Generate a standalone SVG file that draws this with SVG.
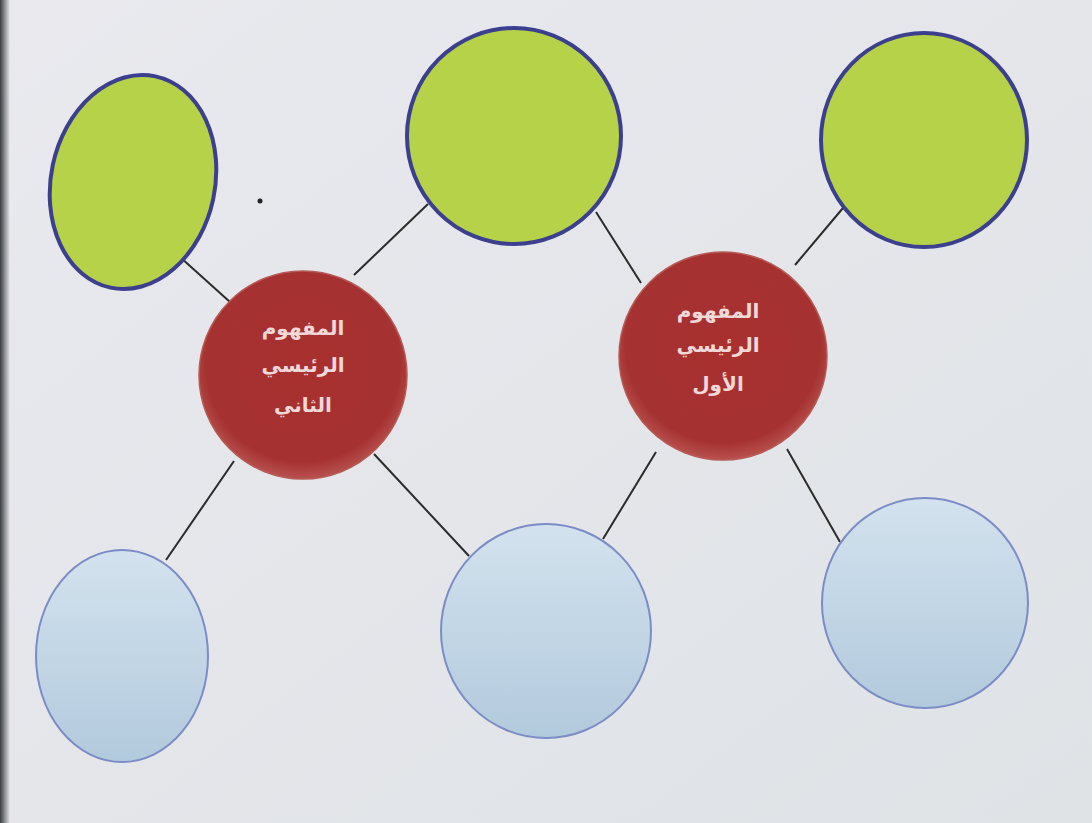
<svg xmlns="http://www.w3.org/2000/svg" width="1092" height="823" viewBox="0 0 1092 823">
<defs>
<linearGradient id="bg" x1="0" y1="0" x2="1" y2="1">
<stop offset="0" stop-color="#e9e9ee"/>
<stop offset="1" stop-color="#dfe3e6"/>
</linearGradient>
<linearGradient id="edge" x1="0" y1="0" x2="1" y2="0">
<stop offset="0" stop-color="#3a3d40"/>
<stop offset="1" stop-color="#3a3d40" stop-opacity="0"/>
</linearGradient>
<radialGradient id="red" cx="0.5" cy="0.45" r="0.55">
<stop offset="0" stop-color="#a8302f"/>
<stop offset="0.85" stop-color="#a53231"/>
<stop offset="1" stop-color="#b8514e"/>
</radialGradient>
<linearGradient id="blue" x1="0" y1="0" x2="0" y2="1">
<stop offset="0" stop-color="#d3e2ee"/>
<stop offset="1" stop-color="#b2cadd"/>
</linearGradient>
<style>
.green{fill:#b5d249;stroke:#3c3f8e;stroke-width:4}
.blue{fill:url(#blue);stroke:#7b8cc6;stroke-width:2}
.red{fill:url(#red);stroke:#b65a55;stroke-width:1.5}
.conn line{stroke:#2b2b2b;stroke-width:2}
.lbl{font-family:"DejaVu Sans","Noto Sans",sans-serif;font-size:20px;font-weight:bold;fill:#f2d9d9;text-anchor:middle}
</style>
</defs>
<rect width="1092" height="823" fill="url(#bg)"/>
<rect x="0" y="0" width="10" height="823" fill="url(#edge)"/>
<circle cx="260" cy="201" r="2.5" fill="#222"/>
<g id="connectors" class="conn">
<line x1="180" y1="257" x2="230" y2="302"/>
<line x1="354" y1="275" x2="428" y2="204"/>
<line x1="596" y1="212" x2="641" y2="283"/>
<line x1="795" y1="265" x2="843" y2="208"/>
<line x1="234" y1="461" x2="166" y2="560"/>
<line x1="374" y1="454" x2="469" y2="556"/>
<line x1="656" y1="452" x2="603" y2="539"/>
<line x1="787" y1="449" x2="840" y2="542"/>
</g>
<g id="green-top-left"><ellipse class="green" cx="133" cy="182" rx="82" ry="108" transform="rotate(12 133 182)"/></g>
<g id="green-top-center"><ellipse class="green" cx="514" cy="136" rx="107" ry="108"/></g>
<g id="green-top-right"><ellipse class="green" cx="924" cy="140" rx="103" ry="107"/></g>
<g id="blue-bottom-left"><ellipse class="blue" cx="122" cy="656" rx="86" ry="106"/></g>
<g id="blue-bottom-center"><ellipse class="blue" cx="546" cy="631" rx="105" ry="107"/></g>
<g id="blue-bottom-right"><ellipse class="blue" cx="925" cy="603" rx="103" ry="105"/></g>
<g id="main-concept-2">
<circle class="red" cx="303" cy="375" r="104"/>
<text class="lbl" x="303" y="335" direction="rtl">المفهوم</text>
<text class="lbl" x="303" y="372" direction="rtl">الرئيسي</text>
<text class="lbl" x="303" y="412" direction="rtl">الثاني</text>
</g>
<g id="main-concept-1">
<circle class="red" cx="723" cy="356" r="104"/>
<text class="lbl" x="718" y="318" direction="rtl">المفهوم</text>
<text class="lbl" x="718" y="352" direction="rtl">الرئيسي</text>
<text class="lbl" x="718" y="391" direction="rtl">الأول</text>
</g>
</svg>
